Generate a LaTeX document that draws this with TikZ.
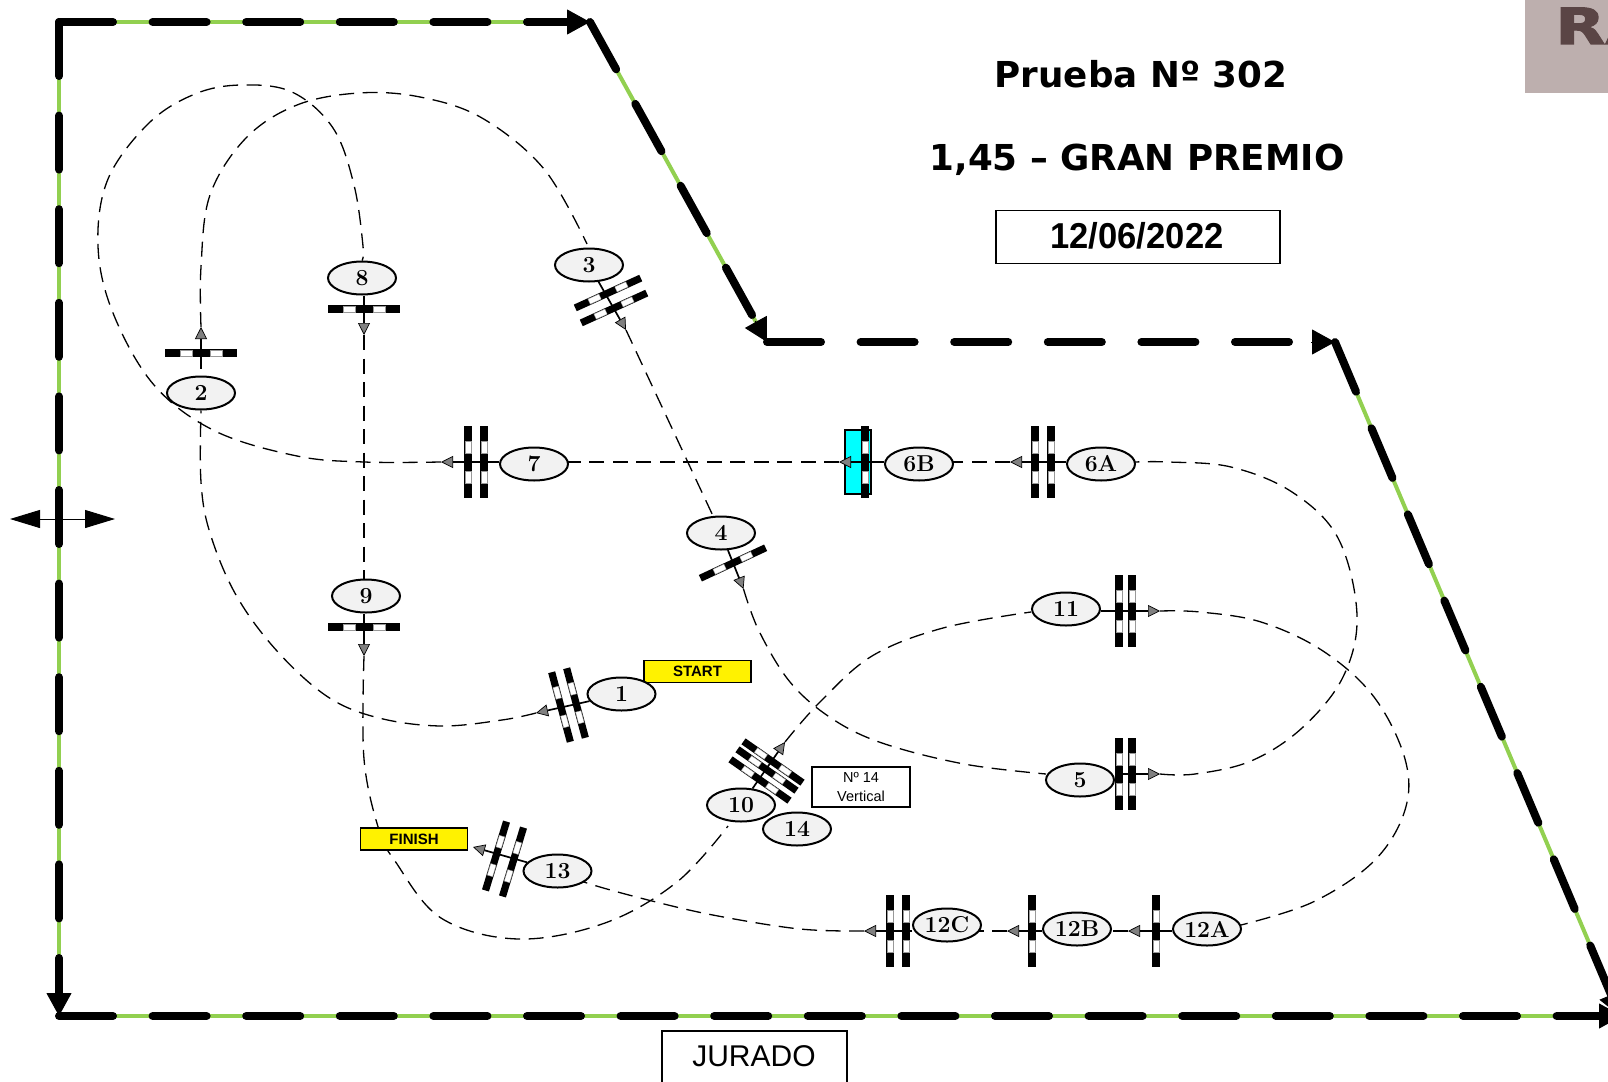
\documentclass[tikz,border=0pt]{standalone}
\usepackage{fontspec}
\newfontfamily\arialf{Liberation Sans}
\newfontfamily\verdf{DejaVu Sans}
\newfontfamily\stampf[FakeBold=2]{DejaVu Sans}
\usetikzlibrary{shapes.geometric,arrows.meta,calc}
\pgfdeclarelayer{courselayer}
\pgfsetlayers{courselayer,main}
\definecolor{grass}{HTML}{92D050}
\definecolor{oval}{HTML}{F2F2F2}
\definecolor{stamp}{HTML}{BDAFAE}
\definecolor{stampink}{HTML}{5A4545}
\definecolor{pool}{HTML}{00FFFF}
\tikzset{
  greenline/.style={draw=grass,line width=4pt},
  blackdash/.style={draw=black,line width=8pt,line cap=round,dash pattern=on 54pt off 39.6pt},
  bighead/.style={draw=black,line width=1pt,-{Triangle[length=23pt,width=25pt,fill=black]}},
  ringnode/.style={shape=ellipse,draw=black,line width=2pt,fill=oval,inner sep=0pt,minimum width=68pt,minimum height=33pt,font=\fontsize{23}{23}\selectfont\bfseries},
  fenceblack/.style={shape=rectangle,fill=black,inner sep=0pt,outer sep=0pt,minimum width=72pt,minimum height=7.2pt},
  fencewhite/.style={shape=rectangle,fill=white,draw=black!40,line width=0.4pt,inner sep=0pt,outer sep=0pt,minimum width=12pt,minimum height=5.6pt},
  jump/.style={draw=black,line width=1.7pt,-{Triangle[length=12pt,width=12pt,fill=black!50,line width=0.7pt]}},
  course/.style={draw=black,line width=1.3pt,dash pattern=on 15pt off 8.5pt},
  curved/.style={smooth,tension=0.6},
  yellowbox/.style={shape=rectangle,draw=black,line width=1.5pt,fill=yellow,inner sep=0pt,font=\arialf\bfseries\fontsize{15}{15}\selectfont},
  plainbox/.style={shape=rectangle,draw=black,line width=1.5pt,fill=white,inner sep=0pt},
  titletext/.style={font=\verdf\bfseries\fontsize{35.7}{38}\selectfont}
}
\newcommand{\fencebar}[4]{%
  \node[fenceblack,rotate=#4] (#1) at (#2,#3) {};
  \node[fencewhite,rotate=#4] (#1w) at ($(#1.center)!0.41!(#1.east)$) {};
  \node[fencewhite,rotate=#4] (#1v) at ($(#1.center)!0.41!(#1.west)$) {};
}
\begin{document}
\begin{tikzpicture}[x=1pt,y=-1pt]
\useasboundingbox (0,0) rectangle (1608,1081);
\clip (0,0) rectangle (1608,1081);
% stamp
\fill[stamp] (1525,0) rectangle (1608,93);
\node[anchor=base west,inner sep=0pt,text=stampink,font=\stampf\bfseries\fontsize{50}{50}\selectfont,xscale=1.3] (stampword) at (1555,44) {RA};
% corners
\coordinate (ca) at (59,22);
\coordinate (cb) at (590,22);
\coordinate (cc) at (767,342);
\coordinate (cd) at (1335,342);
\coordinate (ce) at (1620,1016);
\coordinate (cf) at (59,1016);
\coordinate (cg) at (1622,1016);
% border
\draw[greenline] (ca) -- (cb);
\draw[greenline] (cb) -- (cc);
\draw[greenline] (cd) -- (ce);
\draw[greenline] (cf) -- (cg);
\draw[greenline] (ca) -- (cf);
\draw[blackdash] (ca) -- ($(cb)!10pt!(ca)$);
\draw[blackdash] (cb) -- ($(cc)!16pt!(cb)$);
\draw[blackdash] (cc) -- ($(cd)!10pt!(cc)$);
\draw[blackdash] (cd) -- ($(ce)!16pt!(cd)$);
\draw[blackdash] (cf) -- ($(cg)!10pt!(cf)$);
\draw[blackdash] (ca) -- ($(cf)!10pt!(ca)$);
\draw[bighead] ($(cb)!24pt!(ca)$) -- (cb);
\draw[bighead] ($(cc)!24pt!(cb)$) -- (cc);
\draw[bighead] ($(cd)!24pt!(cc)$) -- (cd);
\draw[bighead] ($(ce)!24pt!(cd)$) -- (ce);
\draw[bighead] ($(cg)!24pt!(cf)$) -- (cg);
\draw[bighead] ($(cf)!24pt!(ca)$) -- (cf);
% in-out arrow
\coordinate (gl) at (10,519);
\coordinate (gr) at (115,519);
\draw[black,line width=1pt,{Triangle[length=30pt,width=18pt,fill=black]}-{Triangle[length=30pt,width=18pt,fill=black]}] (gl) -- (gr);
\coordinate (gt) at (59,508);
\coordinate (gb) at (59,530);
\draw[black,line width=1pt] (gt) -- (gb);
% titles
\node[titletext] (titlea) at (1141,74) {Prueba Nº 302};
\node[titletext] (titleb) at (1137,160) {1,45 – GRAN PREMIO};
\node[plainbox,minimum width=284pt,minimum height=53pt] (datebox) at (1138,237) {};
\node[font=\arialf\bfseries\fontsize{36}{36}\selectfont,xscale=0.96] (datetext) at (1137,236) {12/06/2022};
\node[plainbox,anchor=north,minimum width=185pt,minimum height=70pt] (juradobox) at (754.5,1030) {};
\node[font=\arialf\fontsize{30}{30}\selectfont] (juradotext) at (754,1056) {JURADO};
% liverpool
\node[shape=rectangle,draw=black,line width=1.5pt,fill=pool,inner sep=0pt,minimum width=26pt,minimum height=64pt] (water) at (858,462) {};
% fences
\fencebar{fa}{561}{707}{-75}
\fencebar{fb}{576}{703}{-75}
\fencebar{fc}{201}{353}{0}
\fencebar{fd}{608}{293}{24.5}
\fencebar{fe}{614}{308}{24.5}
\fencebar{ff}{733}{563}{25}
\fencebar{fg}{1119}{774}{90}
\fencebar{fh}{1132}{774}{90}
\fencebar{fi}{1035}{462}{90}
\fencebar{fj}{1051}{462}{90}
\fencebar{fk}{865}{462}{90}
\fencebar{fl}{468}{462}{90}
\fencebar{fm}{484}{462}{90}
\fencebar{fn}{364}{309}{0}
\fencebar{fo}{364}{627}{0}
\fencebar{fp}{773}{762}{-35}
\fencebar{fq}{767}{770}{-35}
\fencebar{fr}{760}{780}{-35}
\fencebar{fs}{1119}{611}{90}
\fencebar{ft}{1132}{611}{90}
\fencebar{fu}{1156}{931}{90}
\fencebar{fv}{1032}{931}{90}
\fencebar{fw}{890}{931}{90}
\fencebar{fx}{906}{931}{90}
\fencebar{fy}{496}{856}{73}
\fencebar{fz}{513}{862}{73}
% labels
\node[yellowbox,minimum width=107pt,minimum height=22pt] (startbox) at (697.5,671.5) {START};
\node[yellowbox,minimum width=107pt,minimum height=22pt] (finishbox) at (414,839) {FINISH};
\node[plainbox,minimum width=98pt,minimum height=40pt,font=\arialf\fontsize{14.5}{19}\selectfont,align=center] (notebox) at (861,787) {Nº 14\\Vertical};
% ovals
\node[ringnode] (e1) at (621.5,694) {1};
\node[ringnode] (e2) at (201,393) {2};
\node[ringnode] (e3) at (589,265) {3};
\node[ringnode] (e4) at (721,533) {4};
\node[ringnode] (e5) at (1080,780) {5};
\node[ringnode] (e6a) at (1101,464) {6A};
\node[ringnode] (e6b) at (919,464) {6B};
\node[ringnode] (e7) at (534,464) {7};
\node[ringnode] (e8) at (362,278) {8};
\node[ringnode] (e9) at (366,596) {9};
\node[ringnode] (e10) at (741,805) {10};
\node[ringnode] (e11) at (1066,609) {11};
\node[ringnode] (e12a) at (1207,929) {12A};
\node[ringnode] (e12b) at (1077,929) {12B};
\node[ringnode] (e12c) at (947,925) {12C};
\node[ringnode] (e13) at (557.5,871) {13};
\node[ringnode] (e14) at (797,829) {14};
% arrow tips
\coordinate (t1) at (536,713);
\coordinate (t2) at (201,327);
\coordinate (t3) at (626,330);
\coordinate (t4) at (743.5,589);
\coordinate (t5) at (1160,774);
\coordinate (t6a) at (1010,462);
\coordinate (t6b) at (839,462);
\coordinate (t7) at (441,462);
\coordinate (t8) at (364,335);
\coordinate (t9) at (364,656);
\coordinate (t10) at (785,742);
\coordinate (t11) at (1160,611);
\coordinate (t12a) at (1128,931);
\coordinate (t12b) at (1007,931);
\coordinate (t12c) at (864,931);
\coordinate (t13) at (473,847);
% jumps
\draw[jump] (e1) -- (t1);
\draw[jump,shorten <=7pt] (e2) -- (t2);
\draw[jump] (e3) -- (t3);
\draw[jump] (e4) -- (t4);
\draw[jump] (e5.east |- t5) -- (t5);
\draw[jump] (e6a.west |- t6a) -- (t6a);
\draw[jump] (e6b.west |- t6b) -- (t6b);
\draw[jump] (e7.west |- t7) -- (t7);
\draw[jump] (t8 |- e8.south) -- (t8);
\draw[jump] (t9 |- e9.south) -- (t9);
\draw[jump] (e10) -- (t10);
\draw[jump] (e11.east |- t11) -- (t11);
\draw[jump] (e12a.west |- t12a) -- (t12a);
\draw[jump] (e12b.west |- t12b) -- (t12b);
\draw[jump] (e12c.west |- t12c) -- (t12c);
\draw[jump] (e13) -- (t13);
% course
\begin{pgfonlayer}{courselayer}
\fill[white] (0,0) rectangle (1608,1081);
\draw[course] plot[curved] coordinates {(t1) (502,720) (441,726) (379,718) (328,697) (277,651) (236,595) (210,533) (201,482) (e2.south)};
\draw[course] plot[curved] coordinates {(t2) (201,267) (210,195) (246,138) (297,105) (359,93) (420,97) (482,118) (544,169) (587,244)};
\draw[course] (t3) -- (e4);
\draw[course] plot[curved] coordinates {(t4) (759,631) (790,682) (831,718) (882,743) (964,764) (1046,774)};
\draw[course] plot[curved] coordinates {(t5) (1195,774) (1251,761) (1302,728) (1343,677) (1357,615) (1338,538) (1292,492) (1231,467) (1169,462) (1135,462)};
\draw[course] (t6a) -- (e6b.center |- t6a);
\draw[course] (t6b) -- (e7.center |- t6b);
\draw[course] plot[curved] coordinates {(t7) (364,462) (297,456) (215,431) (154,385) (113,313) (98,246) (108,179) (149,123) (195,94) (241,85) (292,92) (333,128) (354,185) (363,246) (e8.north)};
\draw[course] (t8) -- (t8 |- e9.center);
\draw[course] plot[curved] coordinates {(t9) (364,759) (379,830) (395,861) (441,918) (518,939) (605,923) (677,882) (728,826)};
\draw[course] plot[curved] coordinates {(t10) (820,702) (872,656) (943,628) (1031,612)};
\draw[course] plot[curved] coordinates {(t11) (1200,612) (1261,622) (1323,651) (1374,697) (1405,759) (1405,810) (1374,861) (1313,902) (1241,925)};
\draw[course] (t12a) -- (e12b.center |- t12a);
\draw[course] (t12b) -- (e12c.center |- t12b);
\draw[course] plot[curved] coordinates {(t12c) (800,929) (718,916) (656,902) (590,884) (e13.center)};
\end{pgfonlayer}
\end{tikzpicture}
\end{document}
